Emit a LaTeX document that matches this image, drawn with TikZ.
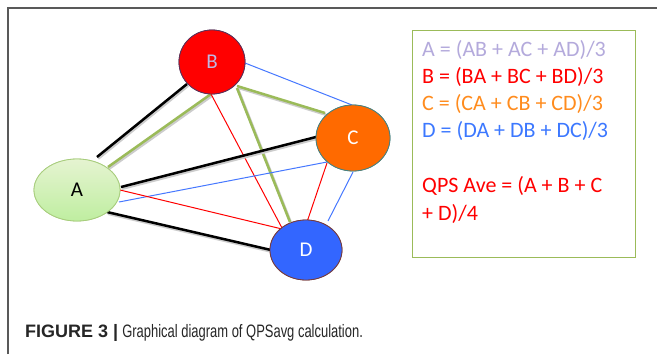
\documentclass[tikz,border=0pt]{standalone}
\usepackage{fontspec}
\setmainfont{Carlito}
\newfontfamily\capfont[FakeStretch=0.72]{Liberation Sans}
\newfontfamily\capbold{Liberation Sans Bold}
\usetikzlibrary{shapes.geometric}
\definecolor{lgreen}{RGB}{155,187,89}
\definecolor{lavtext}{RGB}{180,170,220}
\definecolor{orangetext}{RGB}{255,140,30}
\definecolor{bluetext}{RGB}{60,120,255}
\definecolor{nodeA}{RGB}{212,236,178}
\definecolor{nodeAline}{RGB}{168,205,125}
\definecolor{nodeC}{RGB}{255,106,0}
\definecolor{nodeCline}{RGB}{70,130,130}
\definecolor{nodeD}{RGB}{51,102,255}
\definecolor{nodeDline}{RGB}{120,60,60}
\definecolor{nodeBline}{RGB}{90,50,90}
\definecolor{lineblue}{RGB}{70,120,255}
\begin{document}
\begin{tikzpicture}[x=1pt,y=-1pt,
  vert/.style={ellipse, inner sep=0pt, line width=0.8pt, font=\fontsize{21}{21}\selectfont},
  thickline/.style={line width=2.5pt, preaction={draw=black!20, line width=3pt, transform canvas={shift={(1pt,-1.5pt)}}}},
  blackln/.style={thickline, draw=black},
  greenln/.style={thickline, draw=lgreen},
  thinred/.style={draw=red, line width=1pt},
  thinblue/.style={draw=lineblue, line width=1pt},
  eqtext/.style={anchor=base west, inner sep=0pt, font=\fontsize{22}{22}\selectfont},
  Astyle/.style={vert, draw=nodeAline, top color=nodeA!60!white, bottom color=nodeA!90!green, minimum width=86pt, minimum height=62pt},
  Bstyle/.style={vert, draw=nodeBline, fill=red, minimum width=66pt, minimum height=64pt, text=lavtext!85!white},
  Cstyle/.style={vert, draw=nodeCline, fill=nodeC, minimum width=74pt, minimum height=66pt, text=white},
  Dstyle/.style={vert, draw=nodeDline, fill=nodeD, minimum width=72pt, minimum height=60pt, text=white}
]
\useasboundingbox (0,0) rectangle (657,354);
\fill[white] (0,0) rectangle (657,354);
% outer frame
\draw[black!65, line width=1.2pt] (8,354) -- (8,8) -- (657,8);

% nodes (positions)
\node[Astyle] (A) at (77,190) {A};
\node[Bstyle] (B) at (212,62) {B};
\node[Cstyle] (C) at (353,138) {C};
\node[Dstyle] (D) at (306,250) {D};

% connectors
\draw[blackln] ([shift={(20,-33)}]A.center) -- ([shift={(-25,22)}]B.center);
\draw[greenln] ([shift={(31,-23)}]A.center) -- ([shift={(-1,32)}]B.center);
\draw[greenln] ([shift={(25,24)}]B.center) -- ([shift={(-28,-25)}]C.center);
\draw[greenln] ([shift={(25,26)}]B.center) -- ([shift={(-16,-28)}]D.center);
\draw[thinblue] ([shift={(33,1)}]B.center) -- ([shift={(-1,-33)}]C.center);
\draw[thinred] ([shift={(-1,32)}]B.center) -- ([shift={(-24,-22)}]D.center);
\draw[blackln] ([shift={(44,-3)}]A.center) -- ([shift={(-37,-1)}]C.center);
\draw[thinblue] ([shift={(42,12)}]A.center) -- ([shift={(-26,24)}]C.center);
\draw[thinred] ([shift={(43,0)}]A.center) -- ([shift={(-24,-21)}]D.center);
\draw[blackln] ([shift={(30,22)}]A.center) -- ([shift={(-35,0)}]D.center);
\draw[thinred] ([shift={(-26,25)}]C.center) -- ([shift={(1,-28)}]D.center);
\draw[thinblue] ([shift={(0,34)}]C.center) -- ([shift={(22,-29)}]D.center);

% redraw nodes on top of connectors
\node[Astyle] (A2) at (A) {A};
\node[Bstyle] (B2) at (B) {B};
\node[Cstyle] (C2) at (C) {C};
\node[Dstyle] (D2) at (D) {D};

% formula box
\node[draw=lgreen, line width=1.3pt, minimum width=223pt, minimum height=227pt, inner sep=0pt, anchor=north west] (box) at (412,30) {};
\node[eqtext, text=lavtext] (l1) at (422,56) {A = (AB + AC + AD)/3};
\node[eqtext, text=red] (l2) at (422,83) {B = (BA + BC + BD)/3};
\node[eqtext, text=orangetext] (l3) at (422,110) {C = (CA + CB + CD)/3};
\node[eqtext, text=bluetext] (l4) at (422,137) {D = (DA + DB + DC)/3};
\node[eqtext, text=red] (l5) at (422,192) {QPS Ave = (A + B + C};
\node[eqtext, text=red] (l6) at (422,220) {+ D)/4};

% caption
\node[anchor=base west, inner sep=0pt, font=\fontsize{18}{18}\selectfont, text=black!85] (cap) at (25,337) {{\capbold FIGURE 3 |} {\capfont Graphical diagram of QPSavg calculation.}};
\end{tikzpicture}
\end{document}
